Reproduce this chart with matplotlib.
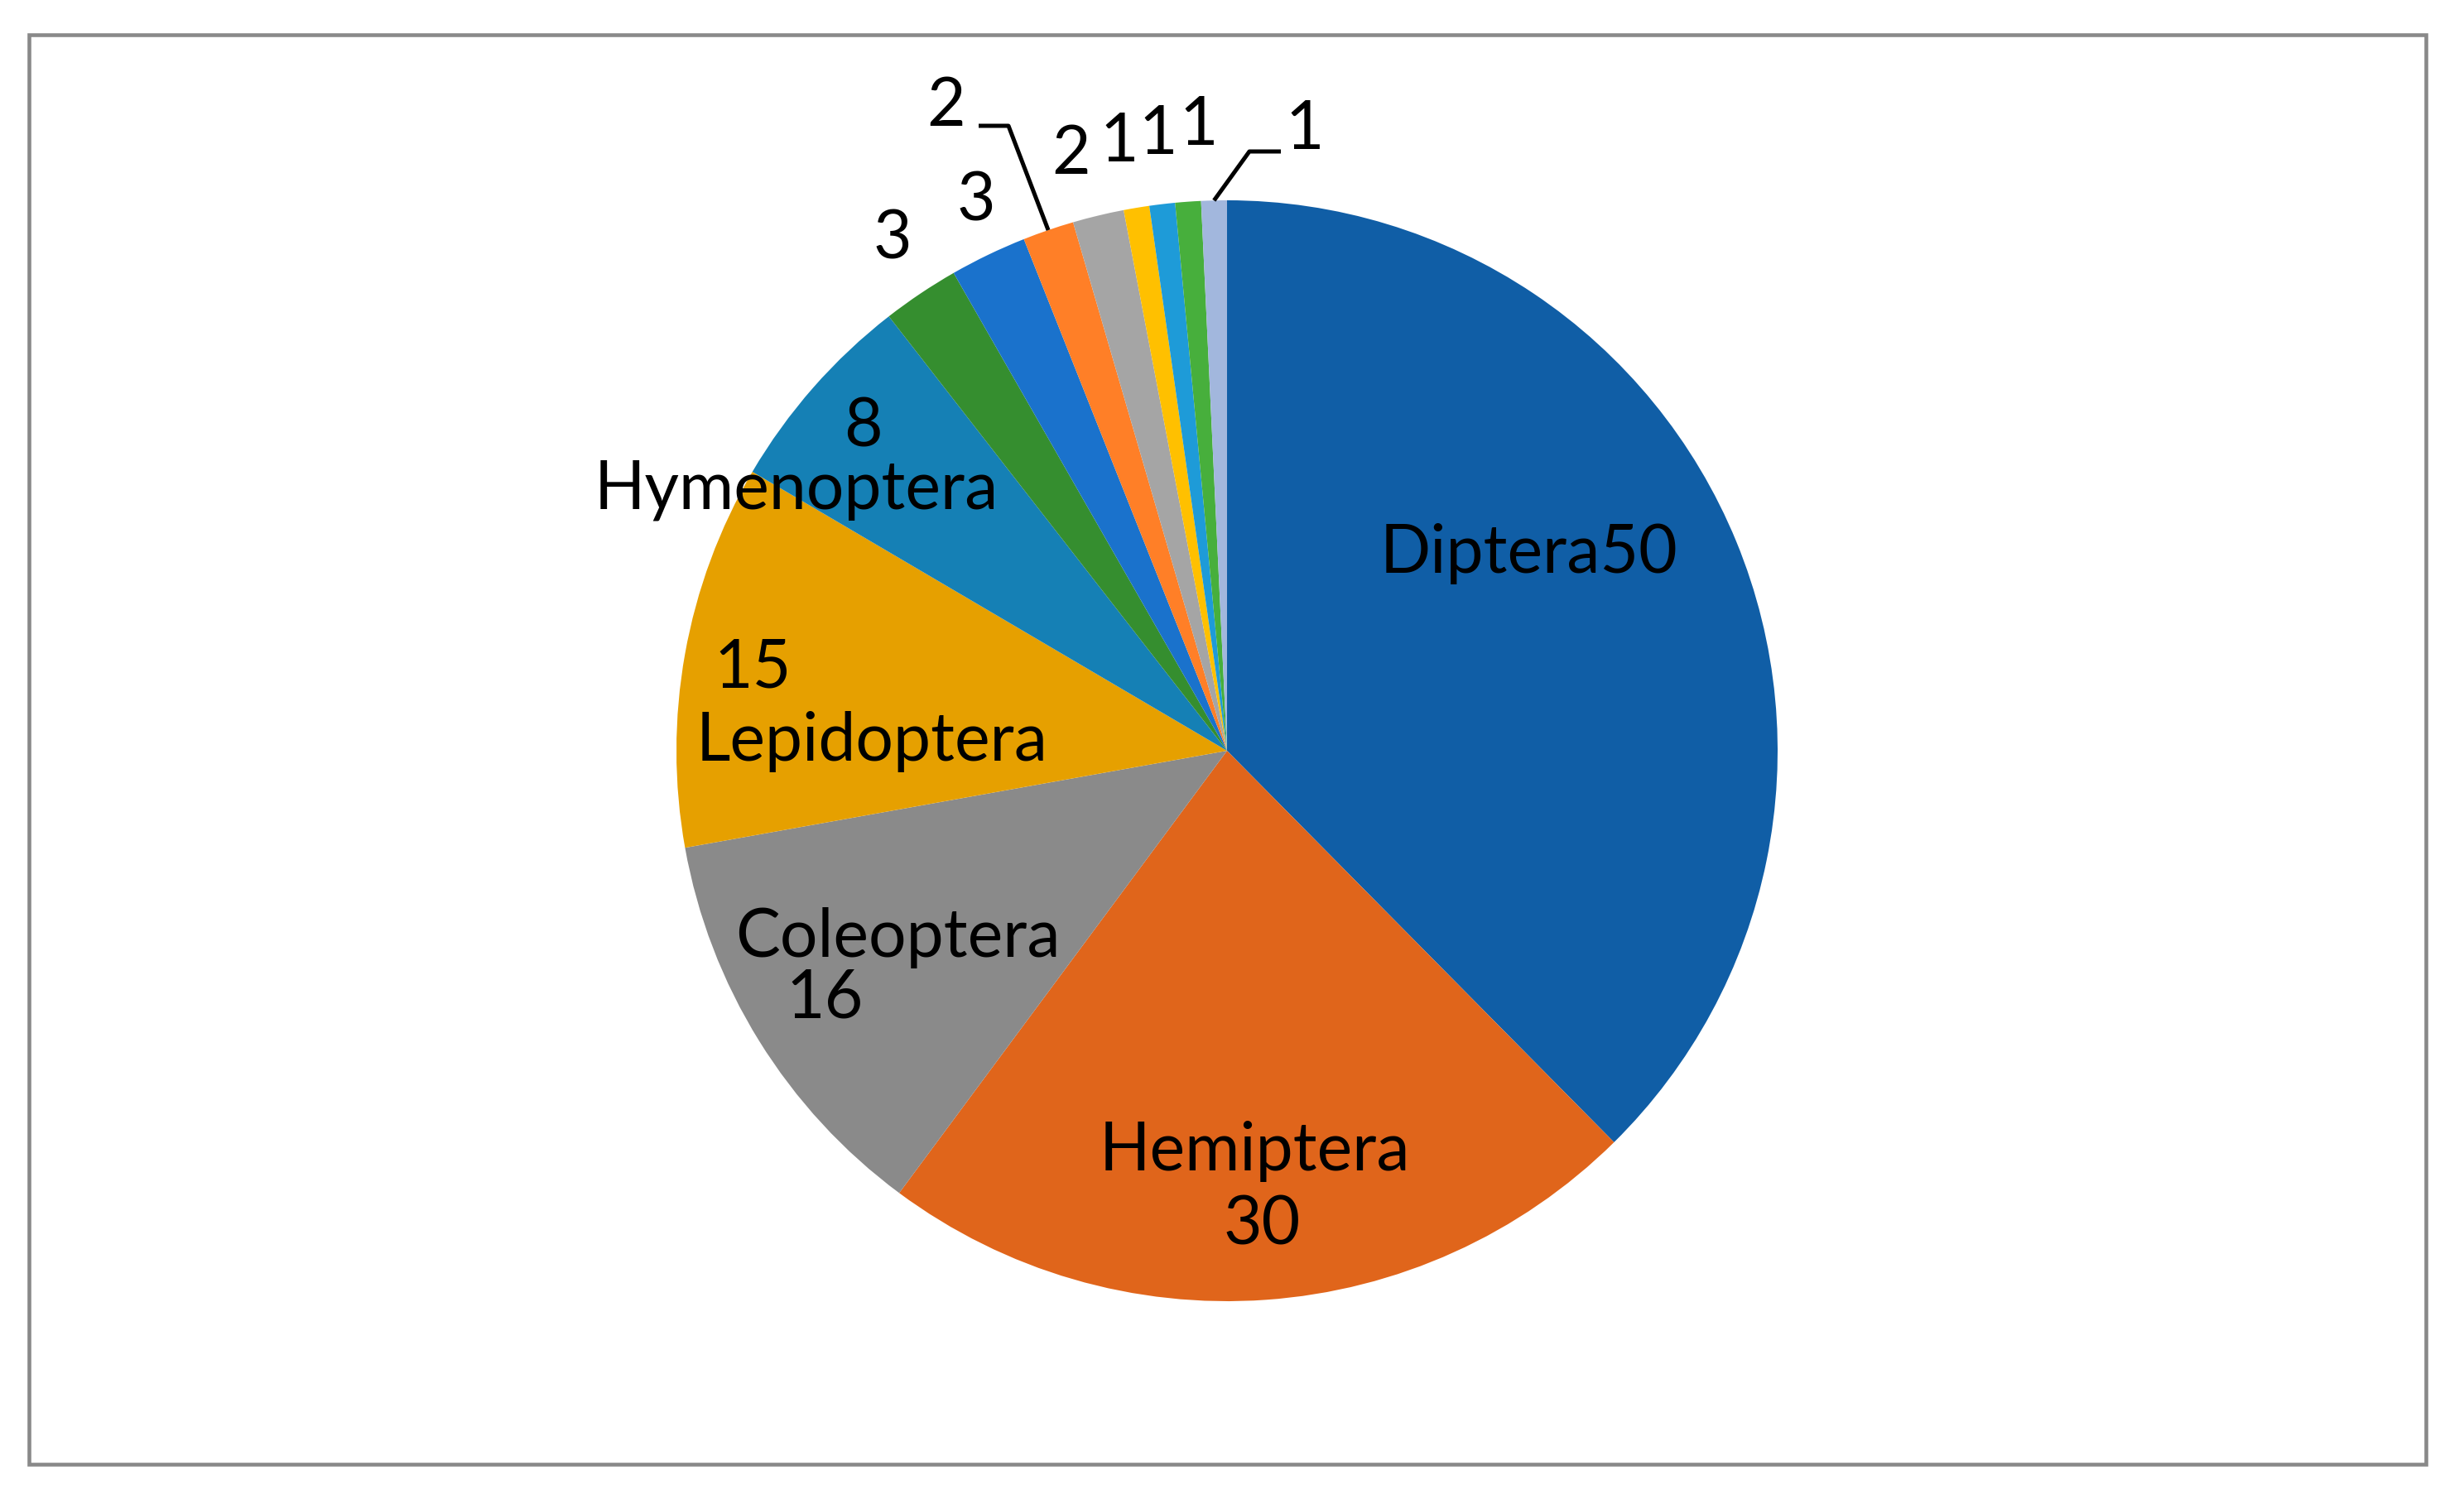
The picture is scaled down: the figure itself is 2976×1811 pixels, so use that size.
import numpy as np
import matplotlib.pyplot as plt
from matplotlib.patches import Rectangle

plt.rcParams['font.family'] = ['Lato', 'DejaVu Sans']

# data, clockwise from 12 o'clock
orders = ['Diptera', 'Hemiptera', 'Coleoptera', 'Lepidoptera', 'Hymenoptera',
          '', '', '', '', '', '', '', '']
counts = [50, 30, 16, 15, 8, 3, 3, 2, 2, 1, 1, 1, 1]
colors = ['#105EA6', '#E0651B', '#8A8A8A', '#E6A000', '#1580B5', '#358E2F',
          '#1A72CC', '#FF7F27', '#A5A5A5', '#FFC000', '#1E9BD8', '#47AF3C', '#A2B7DD']

W, H = 2976, 1811
cx, cy, R = 1482, 907, 665


def px(x, y):
    # full-size pixel (top-left origin) -> pie data coords
    return (x - cx) / R, (cy - y) / R


fig = plt.figure(figsize=(W / 100, H / 100), dpi=100)
fig.patches.append(Rectangle((35 / W, 1 - 1769 / H), (2930 - 35) / W, (1769 - 42) / H,
                             transform=fig.transFigure, fill=False,
                             edgecolor='#898989', linewidth=3.3))

ax = fig.add_axes([(cx - R) / W, (H - cy - R) / H, 2 * R / W, 2 * R / H])
wedges, _ = ax.pie(counts, colors=colors, startangle=90, counterclock=False,
                   radius=1, wedgeprops=dict(linewidth=0))
ax.set_xlim(-1, 1)
ax.set_ylim(-1, 1)
ax.axis('off')

fs = 58

# label lines: (slice index, part, x, y) in full-size pixels
label_pos = [
    (0, 'both', 1847, 669),
    (1, 'name', 1515, 1391), (1, 'val', 1524, 1480),
    (2, 'name', 1084, 1133), (2, 'val', 996, 1207),
    (3, 'val', 909, 807), (3, 'name', 1053, 896),
    (4, 'val', 1042, 516), (4, 'name', 962, 592),
    (5, 'val', 1078, 289), (6, 'val', 1179, 243),
    (7, 'val', 1143, 129), (8, 'val', 1294, 187),
    (9, 'val', 1352, 172), (10, 'val', 1399, 163),
    (11, 'val', 1448, 152), (12, 'val', 1576, 157),
]
for i, part, x, y in label_pos:
    if part == 'both':
        s = orders[i] + str(counts[i])
    elif part == 'name':
        s = orders[i]
    else:
        s = str(counts[i])
    tx, ty = px(x, y)
    ax.text(tx, ty, s, ha='center', va='center', fontsize=fs, color='black', clip_on=False)

# leader lines to the thin slices
leaders = {7: [(1182, 152), (1218, 152)], 12: [(1547, 183), (1509, 183)]}
for i, pts in leaders.items():
    w = wedges[i]
    mid = np.deg2rad((w.theta1 + w.theta2) / 2)
    xs = [px(*p)[0] for p in pts] + [np.cos(mid)]
    ys = [px(*p)[1] for p in pts] + [np.sin(mid)]
    ax.plot(xs, ys, color='black', linewidth=3.6, clip_on=False, solid_capstyle='butt')

fig.savefig('out.png', dpi=100, facecolor='white')
